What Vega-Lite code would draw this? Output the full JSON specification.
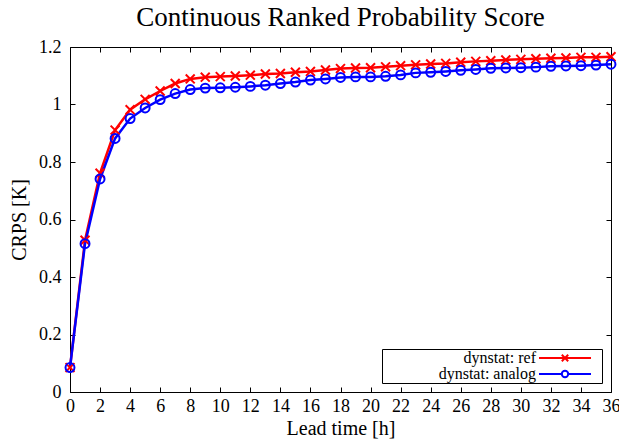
{
  "$schema": "https://vega.github.io/schema/vega-lite/v6.json",
  "width": 541,
  "height": 345,
  "autosize": "none",
  "padding": {"left": 70, "top": 47, "right": 8, "bottom": 49},
  "background": "white",
  "config": {
    "font": "Liberation Serif",
    "view": {"stroke": "black", "strokeWidth": 1},
    "axis": {
      "domain": false,
      "grid": false,
      "tickColor": "black",
      "tickSize": -5,
      "labelColor": "black",
      "labelFont": "Liberation Serif",
      "labelFontSize": 18,
      "titleFont": "Liberation Serif",
      "titleFontSize": 20,
      "titleFontWeight": "normal",
      "titleColor": "black"
    }
  },
  "title": {
    "text": "Continuous Ranked Probability Score",
    "font": "Liberation Serif",
    "fontSize": 27,
    "fontWeight": "normal",
    "color": "black",
    "offset": 6
  },
  "data": {
    "values": [
      {"hour": 0, "crps": 0.085, "series": "dynstat: ref"},
      {"hour": 1, "crps": 0.528, "series": "dynstat: ref"},
      {"hour": 2, "crps": 0.761, "series": "dynstat: ref"},
      {"hour": 3, "crps": 0.911, "series": "dynstat: ref"},
      {"hour": 4, "crps": 0.982, "series": "dynstat: ref"},
      {"hour": 5, "crps": 1.018, "series": "dynstat: ref"},
      {"hour": 6, "crps": 1.047, "series": "dynstat: ref"},
      {"hour": 7, "crps": 1.073, "series": "dynstat: ref"},
      {"hour": 8, "crps": 1.089, "series": "dynstat: ref"},
      {"hour": 9, "crps": 1.095, "series": "dynstat: ref"},
      {"hour": 10, "crps": 1.097, "series": "dynstat: ref"},
      {"hour": 11, "crps": 1.099, "series": "dynstat: ref"},
      {"hour": 12, "crps": 1.102, "series": "dynstat: ref"},
      {"hour": 13, "crps": 1.106, "series": "dynstat: ref"},
      {"hour": 14, "crps": 1.108, "series": "dynstat: ref"},
      {"hour": 15, "crps": 1.112, "series": "dynstat: ref"},
      {"hour": 16, "crps": 1.115, "series": "dynstat: ref"},
      {"hour": 17, "crps": 1.120, "series": "dynstat: ref"},
      {"hour": 18, "crps": 1.125, "series": "dynstat: ref"},
      {"hour": 19, "crps": 1.127, "series": "dynstat: ref"},
      {"hour": 20, "crps": 1.128, "series": "dynstat: ref"},
      {"hour": 21, "crps": 1.131, "series": "dynstat: ref"},
      {"hour": 22, "crps": 1.135, "series": "dynstat: ref"},
      {"hour": 23, "crps": 1.138, "series": "dynstat: ref"},
      {"hour": 24, "crps": 1.141, "series": "dynstat: ref"},
      {"hour": 25, "crps": 1.143, "series": "dynstat: ref"},
      {"hour": 26, "crps": 1.147, "series": "dynstat: ref"},
      {"hour": 27, "crps": 1.150, "series": "dynstat: ref"},
      {"hour": 28, "crps": 1.152, "series": "dynstat: ref"},
      {"hour": 29, "crps": 1.155, "series": "dynstat: ref"},
      {"hour": 30, "crps": 1.157, "series": "dynstat: ref"},
      {"hour": 31, "crps": 1.159, "series": "dynstat: ref"},
      {"hour": 32, "crps": 1.161, "series": "dynstat: ref"},
      {"hour": 33, "crps": 1.162, "series": "dynstat: ref"},
      {"hour": 34, "crps": 1.164, "series": "dynstat: ref"},
      {"hour": 35, "crps": 1.164, "series": "dynstat: ref"},
      {"hour": 36, "crps": 1.166, "series": "dynstat: ref"},
      {"hour": 0, "crps": 0.085, "series": "dynstat: analog"},
      {"hour": 1, "crps": 0.516, "series": "dynstat: analog"},
      {"hour": 2, "crps": 0.741, "series": "dynstat: analog"},
      {"hour": 3, "crps": 0.882, "series": "dynstat: analog"},
      {"hour": 4, "crps": 0.951, "series": "dynstat: analog"},
      {"hour": 5, "crps": 0.988, "series": "dynstat: analog"},
      {"hour": 6, "crps": 1.017, "series": "dynstat: analog"},
      {"hour": 7, "crps": 1.038, "series": "dynstat: analog"},
      {"hour": 8, "crps": 1.052, "series": "dynstat: analog"},
      {"hour": 9, "crps": 1.057, "series": "dynstat: analog"},
      {"hour": 10, "crps": 1.058, "series": "dynstat: analog"},
      {"hour": 11, "crps": 1.060, "series": "dynstat: analog"},
      {"hour": 12, "crps": 1.063, "series": "dynstat: analog"},
      {"hour": 13, "crps": 1.067, "series": "dynstat: analog"},
      {"hour": 14, "crps": 1.073, "series": "dynstat: analog"},
      {"hour": 15, "crps": 1.078, "series": "dynstat: analog"},
      {"hour": 16, "crps": 1.085, "series": "dynstat: analog"},
      {"hour": 17, "crps": 1.089, "series": "dynstat: analog"},
      {"hour": 18, "crps": 1.094, "series": "dynstat: analog"},
      {"hour": 19, "crps": 1.096, "series": "dynstat: analog"},
      {"hour": 20, "crps": 1.096, "series": "dynstat: analog"},
      {"hour": 21, "crps": 1.098, "series": "dynstat: analog"},
      {"hour": 22, "crps": 1.103, "series": "dynstat: analog"},
      {"hour": 23, "crps": 1.110, "series": "dynstat: analog"},
      {"hour": 24, "crps": 1.112, "series": "dynstat: analog"},
      {"hour": 25, "crps": 1.115, "series": "dynstat: analog"},
      {"hour": 26, "crps": 1.119, "series": "dynstat: analog"},
      {"hour": 27, "crps": 1.122, "series": "dynstat: analog"},
      {"hour": 28, "crps": 1.126, "series": "dynstat: analog"},
      {"hour": 29, "crps": 1.127, "series": "dynstat: analog"},
      {"hour": 30, "crps": 1.128, "series": "dynstat: analog"},
      {"hour": 31, "crps": 1.130, "series": "dynstat: analog"},
      {"hour": 32, "crps": 1.133, "series": "dynstat: analog"},
      {"hour": 33, "crps": 1.134, "series": "dynstat: analog"},
      {"hour": 34, "crps": 1.135, "series": "dynstat: analog"},
      {"hour": 35, "crps": 1.137, "series": "dynstat: analog"},
      {"hour": 36, "crps": 1.140, "series": "dynstat: analog"}
    ]
  },
  "layer": [
    {
      "mark": {"type": "line", "strokeWidth": 2.5},
      "encoding": {
        "x": {
          "field": "hour", "type": "quantitative",
          "scale": {"domain": [0, 36], "nice": false},
          "axis": {"orient": "bottom", "values": [0,2,4,6,8,10,12,14,16,18,20,22,24,26,28,30,32,34,36], "labelPadding": 10, "title": "Lead time [h]", "titlePadding": 3, "labelFlush": false}
        },
        "y": {
          "field": "crps", "type": "quantitative",
          "scale": {"domain": [0, 1.2], "nice": false, "zero": false},
          "axis": {"orient": "left", "values": [0, 0.2, 0.4, 0.6, 0.8, 1, 1.2], "format": "~g", "labelPadding": 14, "title": "CRPS [K]", "titlePadding": 9, "labelFlush": false}
        },
        "color": {
          "field": "series", "type": "nominal",
          "scale": {"domain": ["dynstat: ref", "dynstat: analog"], "range": ["#ff0000", "#0000ff"]},
          "legend": null
        }
      }
    },
    {
      "mark": {"type": "point", "filled": false, "strokeWidth": 2, "size": 80, "opacity": 1},
      "encoding": {
        "x": {"field": "hour", "type": "quantitative", "axis": null},
        "y": {"field": "crps", "type": "quantitative", "axis": null},
        "color": {"field": "series", "type": "nominal", "legend": null},
        "shape": {
          "field": "series", "type": "nominal",
          "scale": {"domain": ["dynstat: ref", "dynstat: analog"], "range": ["M-1,-1L1,1M-1,1L1,-1", "circle"]},
          "legend": null
        }
      }
    },
    {
      "mark": {"type": "point", "filled": false, "opacity": 0},
      "encoding": {
        "x": {
          "field": "hour", "type": "quantitative",
          "axis": {"orient": "top", "values": [0,2,4,6,8,10,12,14,16,18,20,22,24,26,28,30,32,34,36], "labels": false, "title": null}
        },
        "y": {
          "field": "crps", "type": "quantitative",
          "axis": {"orient": "right", "values": [0, 0.2, 0.4, 0.6, 0.8, 1, 1.2], "labels": false, "title": null}
        },
        "color": {
          "field": "series", "type": "nominal",
          "legend": {
            "title": "\u00a0",
            "titleOrient": "left",
            "titlePadding": 50,
            "titleFontSize": 16,
            "orient": "bottom-right",
            "offset": 9,
            "strokeColor": "black",
            "fillColor": "white",
            "cornerRadius": 0,
            "padding": 1,
            "symbolSize": 64,
            "symbolStrokeWidth": 2,
            "symbolOpacity": 1,
            "symbolOffset": 124,
            "labelFont": "Liberation Serif",
            "labelFontSize": 16,
            "labelColor": "black",
            "labelAlign": "right",
            "labelOffset": -37,
            "rowPadding": -8
          }
        },
        "shape": {
          "field": "series", "type": "nominal",
          "scale": {"domain": ["dynstat: ref", "dynstat: analog"], "range": ["M-6.5,0H6.5M-0.8,-0.8L0.8,0.8M-0.8,0.8L0.8,-0.8M8,0", "M-6.5,0H-0.8A0.8,0.8 0 1,1 0.8,0A0.8,0.8 0 1,1 -0.8,0M0.8,0H6.5M8,0"]},
          "legend": {"title": "\u00a0"}
        }
      }
    }
  ],
  "resolve": {
    "scale": {"shape": "independent"},
    "axis": {"x": "independent", "y": "independent"},
    "legend": {"color": "independent", "shape": "independent"}
  }
}
